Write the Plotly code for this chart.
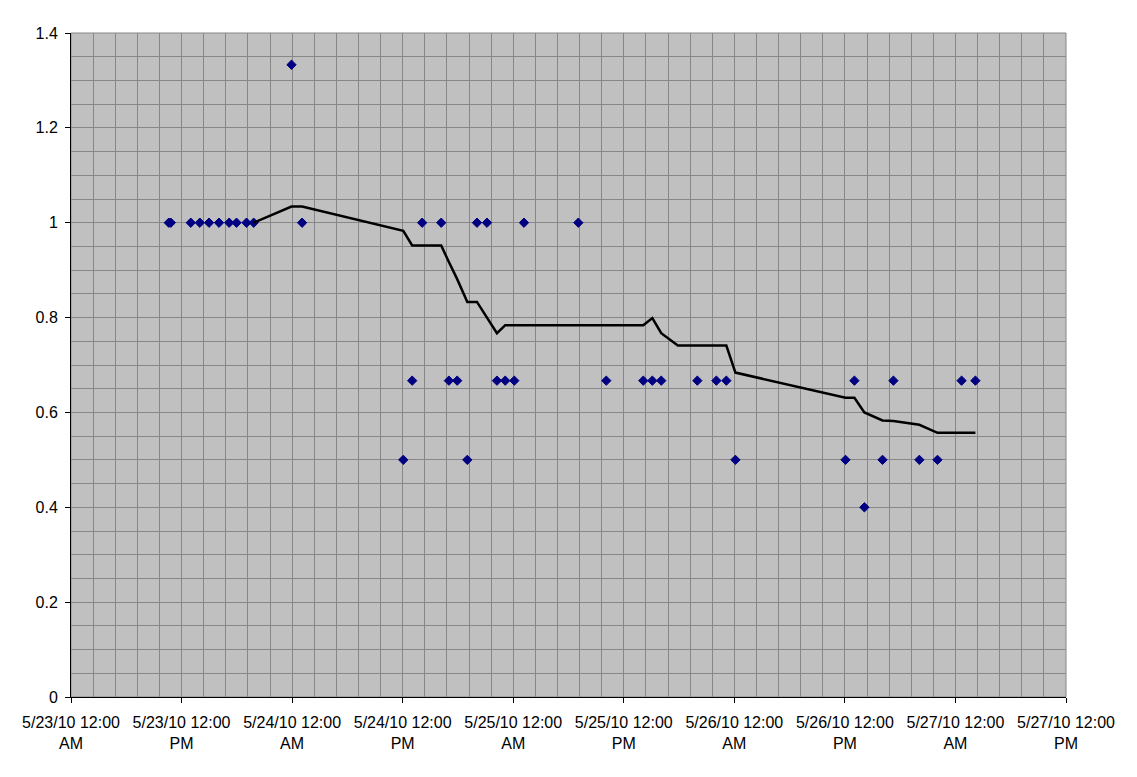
import plotly.graph_objects as go

# Observed values (scatter points)
point_times = [
    "2010-05-23 10:37", "2010-05-23 10:50", "2010-05-23 13:00", "2010-05-23 13:59",
    "2010-05-23 14:59", "2010-05-23 16:04", "2010-05-23 17:10", "2010-05-23 17:58",
    "2010-05-23 19:03", "2010-05-23 19:50", "2010-05-23 23:56", "2010-05-24 01:05",
    "2010-05-24 12:04", "2010-05-24 13:02", "2010-05-24 14:07", "2010-05-24 16:11",
    "2010-05-24 17:01", "2010-05-24 17:55", "2010-05-24 19:01", "2010-05-24 20:04",
    "2010-05-24 21:09", "2010-05-24 22:14", "2010-05-24 23:08", "2010-05-25 00:07",
    "2010-05-25 01:10", "2010-05-25 07:04", "2010-05-25 10:06", "2010-05-25 14:07",
    "2010-05-25 15:06", "2010-05-25 16:04", "2010-05-25 19:59", "2010-05-25 22:03",
    "2010-05-25 23:08", "2010-05-26 00:07", "2010-05-26 12:04", "2010-05-26 13:02",
    "2010-05-26 14:07", "2010-05-26 16:05", "2010-05-26 17:16", "2010-05-26 20:05",
    "2010-05-26 22:03", "2010-05-27 00:40", "2010-05-27 02:10",
]
point_values = [
    1, 1, 1, 1,
    1, 1, 1, 1,
    1, 1, 1.333, 1,
    0.5, 0.667, 1, 1,
    0.667, 0.667, 0.5, 1,
    1, 0.667, 0.667, 0.667,
    1, 1, 0.667, 0.667,
    0.667, 0.667, 0.667, 0.667,
    0.667, 0.5, 0.5, 0.667,
    0.4, 0.5, 0.667, 0.5,
    0.5, 0.667, 0.667,
]

# Moving-average trend line
trend_times = [
    "2010-05-23 19:50", "2010-05-23 23:56", "2010-05-24 01:05", "2010-05-24 12:04",
    "2010-05-24 13:02", "2010-05-24 16:11", "2010-05-24 17:01", "2010-05-24 17:55",
    "2010-05-24 19:01", "2010-05-24 20:04", "2010-05-24 21:09", "2010-05-24 22:14",
    "2010-05-24 23:08", "2010-05-25 14:07", "2010-05-25 15:06", "2010-05-25 16:04",
    "2010-05-25 17:52", "2010-05-25 23:08", "2010-05-26 00:07", "2010-05-26 12:04",
    "2010-05-26 13:02", "2010-05-26 14:07", "2010-05-26 16:05", "2010-05-26 17:16",
    "2010-05-26 20:05", "2010-05-26 22:03", "2010-05-27 02:10",
]
trend_values = [
    1.0, 1.034, 1.034, 0.983,
    0.952, 0.952, 0.917, 0.881,
    0.833, 0.833, 0.800, 0.767,
    0.784, 0.784, 0.799, 0.767,
    0.741, 0.741, 0.684, 0.631,
    0.631, 0.600, 0.583, 0.582,
    0.574, 0.557, 0.557,
]

# Axis ticks
x_tick_vals = [
    "2010-05-23 00:00", "2010-05-23 12:00", "2010-05-24 00:00", "2010-05-24 12:00",
    "2010-05-25 00:00", "2010-05-25 12:00", "2010-05-26 00:00", "2010-05-26 12:00",
    "2010-05-27 00:00", "2010-05-27 12:00",
]
x_tick_text = [
    "5/23/10 12:00<br>AM", "5/23/10 12:00<br>PM", "5/24/10 12:00<br>AM", "5/24/10 12:00<br>PM",
    "5/25/10 12:00<br>AM", "5/25/10 12:00<br>PM", "5/26/10 12:00<br>AM", "5/26/10 12:00<br>PM",
    "5/27/10 12:00<br>AM", "5/27/10 12:00<br>PM",
]
y_tick_vals = [0, 0.2, 0.4, 0.6, 0.8, 1.0, 1.2, 1.4]
y_tick_text = ["0", "0.2", "0.4", "0.6", "0.8", "1", "1.2", "1.4"]

GRID = "#878787"

fig = go.Figure()
fig.add_trace(go.Scatter(
    x=point_times, y=point_values, mode="markers",
    marker=dict(symbol="diamond", size=7.2, color="#000080",
                line=dict(color="#000080", width=1)),
    showlegend=False, hoverinfo="x+y",
))
fig.add_trace(go.Scatter(
    x=trend_times, y=trend_values, mode="lines",
    line=dict(color="black", width=2.5),
    showlegend=False, hoverinfo="x+y",
))

# page body has an 8px margin, so the figure is sized/offset to compensate
fig.update_layout(
    width=1121, height=761,
    margin=dict(l=63, r=63, t=25, b=72),
    paper_bgcolor="white",
    plot_bgcolor="#c0c0c0",
    font=dict(family="Liberation Sans, Arial, sans-serif", size=16, color="black"),
    showlegend=False,
)
fig.update_xaxes(
    type="date",
    range=["2010-05-23 00:00", "2010-05-27 12:00"],
    tickmode="array", tickvals=x_tick_vals, ticktext=x_tick_text,
    ticks="outside", ticklen=5, tickcolor="black", tickwidth=1,
    ticklabelstandoff=6,
    showline=True, linecolor="black", linewidth=1,
    showgrid=True, gridcolor=GRID, gridwidth=1,
    minor=dict(dtick=2.4 * 3600 * 1000, tick0="2010-05-23", showgrid=True,
               gridcolor=GRID, gridwidth=1, ticks=""),
    zeroline=False,
)
fig.update_yaxes(
    range=[0, 1.4],
    tickmode="array", tickvals=y_tick_vals, ticktext=y_tick_text,
    ticks="outside", ticklen=5, tickcolor="black", tickwidth=1,
    ticklabelstandoff=4,
    showline=True, linecolor="black", linewidth=1,
    showgrid=True, gridcolor=GRID, gridwidth=1,
    minor=dict(dtick=0.05, tick0=0, showgrid=True, gridcolor=GRID, gridwidth=1, ticks=""),
    zeroline=False,
)
fig.add_shape(type="rect", xref="paper", yref="paper", x0=0, y0=0, x1=1, y1=1,
              line=dict(color=GRID, width=1), layer="below")

fig.write_html("out.html")
